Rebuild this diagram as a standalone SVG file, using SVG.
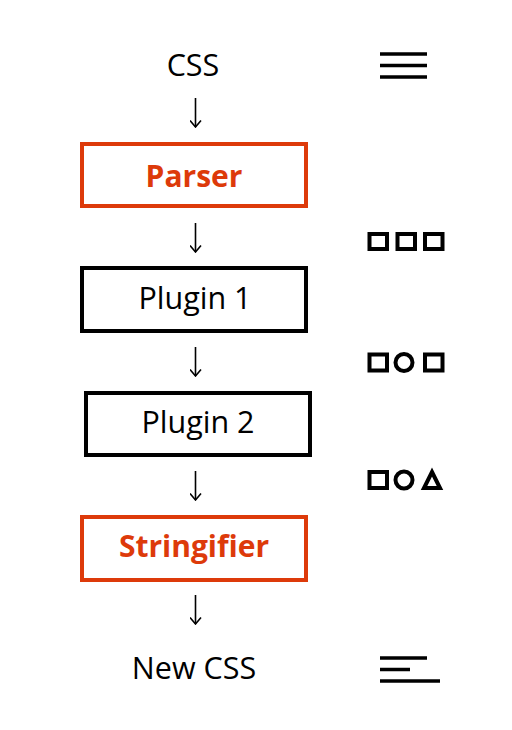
<svg xmlns="http://www.w3.org/2000/svg" width="512" height="730" viewBox="0 0 512 730">
<defs>
<style>
.t{font-family:"Open Sans","Noto Sans",sans-serif;font-size:30.5px;fill:#000;text-anchor:middle}
.o{font-weight:bold;fill:#DD3A0A;font-size:30px}
.box{fill:#fff;stroke:#000;stroke-width:4}
.ob{stroke:#DD3A0A}
.ar{stroke:#000;stroke-width:1.6;fill:none}
.ic{fill:none;stroke:#000;stroke-width:4}
.ln{stroke:#000;stroke-width:3.5}
</style>
<marker id="ah" viewBox="0 0 10 12" refX="9.5" refY="6" markerWidth="10" markerHeight="12" markerUnits="userSpaceOnUse" orient="auto">
<path d="M3,0.5 L9.5,6 L3,11.5" fill="none" stroke="#000" stroke-width="1.6"/>
</marker>
</defs>
<rect width="512" height="730" fill="#fff"/>
<g id="css"><text class="t" x="193" y="76">CSS</text></g>
<g id="parser"><rect class="box ob" x="82" y="144" width="224" height="62"/><text class="t o" x="194" y="187">Parser</text></g>
<g id="plugin1"><rect class="box" x="82" y="268" width="224" height="63"/><text class="t" x="195" y="309">Plugin 1</text></g>
<g id="plugin2"><rect class="box" x="86" y="393" width="224" height="62"/><text class="t" x="198" y="433">Plugin 2</text></g>
<g id="stringifier"><rect class="box ob" x="82" y="517" width="224" height="63"/><text class="t o" x="194" y="557">Stringifier</text></g>
<g id="newcss"><text class="t" x="194" y="679">New CSS</text></g>
<g id="connectors">
<line class="ar" x1="195.5" y1="98" x2="195.5" y2="127" marker-end="url(#ah)"/>
<line class="ar" x1="195.5" y1="223" x2="195.5" y2="252" marker-end="url(#ah)"/>
<line class="ar" x1="195.5" y1="347" x2="195.5" y2="376" marker-end="url(#ah)"/>
<line class="ar" x1="195.5" y1="471" x2="195.5" y2="500" marker-end="url(#ah)"/>
<line class="ar" x1="195.5" y1="595" x2="195.5" y2="624" marker-end="url(#ah)"/>
</g>
<g id="icon-css">
<line class="ln" x1="380" y1="54" x2="427" y2="54"/>
<line class="ln" x1="380" y1="65.5" x2="427" y2="65.5"/>
<line class="ln" x1="380" y1="77" x2="427" y2="77"/>
</g>
<g id="icon-parser">
<rect class="ic" x="369.5" y="234" width="17.5" height="15"/>
<rect class="ic" x="397.5" y="234" width="17.5" height="15"/>
<rect class="ic" x="425" y="234" width="17.5" height="15"/>
</g>
<g id="icon-plugin1">
<rect class="ic" x="369.5" y="354.5" width="17.5" height="16"/>
<circle class="ic" cx="404" cy="362.5" r="8.5"/>
<rect class="ic" x="425" y="354.5" width="17.5" height="16"/>
</g>
<g id="icon-plugin2">
<rect class="ic" x="369.5" y="472" width="17.5" height="16"/>
<circle class="ic" cx="404" cy="480" r="8.5"/>
<path class="ic" d="M432,472 L440,488 L424,488 Z" stroke-linejoin="miter"/>
</g>
<g id="icon-newcss">
<line class="ln" x1="380" y1="658" x2="427" y2="658"/>
<line class="ln" x1="380" y1="669.5" x2="410" y2="669.5"/>
<line class="ln" x1="380" y1="681" x2="440" y2="681"/>
</g>
</svg>
